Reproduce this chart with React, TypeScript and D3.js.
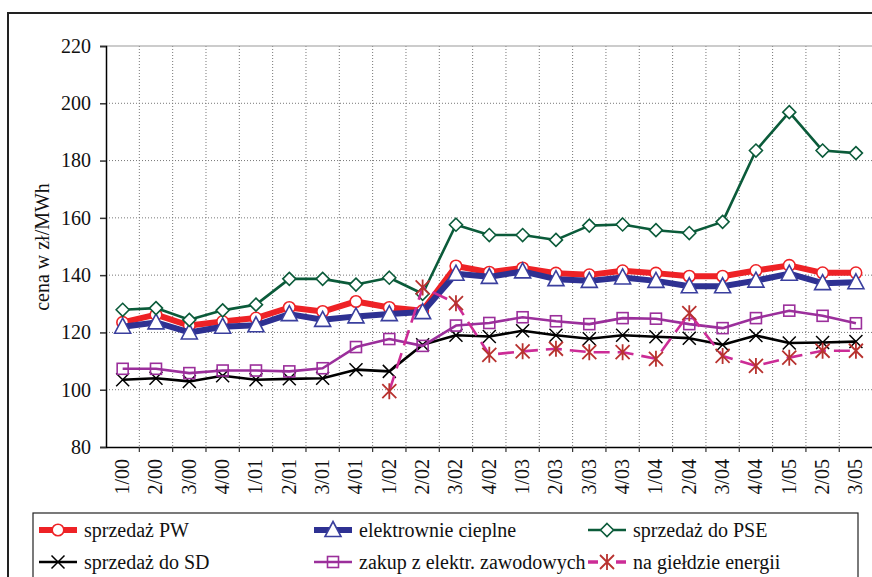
import React, { useEffect, useRef } from 'react'
import * as d3 from 'd3'

// quarters on the x axis
const quarters = [
  '1/00', '2/00', '3/00', '4/00', '1/01', '2/01', '3/01', '4/01',
  '1/02', '2/02', '3/02', '4/02', '1/03', '2/03', '3/03', '4/03',
  '1/04', '2/04', '3/04', '4/04', '1/05', '2/05', '3/05',
]
const yTicks = [80, 100, 120, 140, 160, 180, 200, 220]

// prices in zł/MWh
const sprzedazPW = [123.5, 126.2, 122.4, 123.8, 125, 128.7, 127.3, 130.8, 128.7, 127.6, 143.2, 141, 142.5, 140.7, 140.1, 141.5, 140.7, 139.6, 139.6, 141.6, 143.4, 140.8, 140.8]
const elektrownieCieplne = [122, 123.5, 120, 122, 122.5, 126.4, 124.4, 125.6, 126.4, 127.1, 140.5, 139.4, 141.3, 138.6, 138, 139.2, 138, 136.1, 136.1, 138.1, 140.5, 137.2, 137.5]
const sprzedazPSE = [127.9, 128.5, 124.4, 127.7, 129.7, 138.7, 138.7, 136.7, 139.1, 133.5, 157.6, 154, 154, 152.3, 157.3, 157.7, 155.7, 154.7, 158.6, 183.5, 196.9, 183.5, 182.6]
const sprzedazSD = [103.5, 104, 102.9, 104.9, 103.5, 103.8, 104, 107, 106.4, 115.7, 119, 118.6, 120.6, 119, 117.8, 119, 118.5, 118, 115.7, 118.9, 116.3, 116.5, 116.8]
const zakupZawodowe = [107.3, 107.3, 105.8, 106.7, 106.7, 106.4, 107.5, 114.9, 117.7, 115.3, 122.4, 123.3, 125.3, 123.9, 122.9, 125, 124.8, 122.9, 121.5, 125, 127.6, 125.8, 123.2]
const gieldaEnergii = [null, null, null, null, null, null, null, null, 99.5, 135.7, 130.2, 112.2, 113.4, 114.3, 113.1, 113.1, 110.8, 126.7, 111.8, 108.3, 111.2, 113.6, 113.6]

const series = [
  { name: 'sprzedaż PW', values: sprzedazPW, color: '#EE2226', width: 6, marker: 'circle', markerColor: '#EE2226', dash: null },
  { name: 'elektrownie cieplne', values: elektrownieCieplne, color: '#2E3192', width: 6, marker: 'triangle', markerColor: '#3A3F9E', dash: null },
  { name: 'sprzedaż do PSE', values: sprzedazPSE, color: '#0B5B3A', width: 2.6, marker: 'diamond', markerColor: '#0B5B3A', dash: null },
  { name: 'sprzedaż do SD', values: sprzedazSD, color: '#000000', width: 2.6, marker: 'x', markerColor: '#000000', dash: null },
  { name: 'zakup z elektr. zawodowych', values: zakupZawodowe, color: '#9B2F9B', width: 2.6, marker: 'square', markerColor: '#9B2F9B', dash: null },
  { name: 'na giełdzie energii', values: gieldaEnergii, color: '#CC2C96', width: 2.6, marker: 'star', markerColor: '#B8322F', dash: '16,8' },
]

const font = '"Liberation Serif", "Times New Roman", serif'
const fontSize = '20px'

function drawMarker(g, type, color, cx, cy) {
  if (type === 'circle') {
    g.append('circle').attr('cx', cx).attr('cy', cy).attr('r', 5.8)
      .attr('fill', 'white').attr('stroke', color).attr('stroke-width', 1.6)
  } else if (type === 'triangle') {
    g.append('path')
      .attr('d', `M${cx},${cy - 8.5}L${cx + 8},${cy + 6.5}L${cx - 8},${cy + 6.5}Z`)
      .attr('fill', 'white').attr('stroke', color).attr('stroke-width', 1.6)
  } else if (type === 'diamond') {
    g.append('path')
      .attr('d', `M${cx},${cy - 6.5}L${cx + 6.5},${cy}L${cx},${cy + 6.5}L${cx - 6.5},${cy}Z`)
      .attr('fill', 'white').attr('stroke', color).attr('stroke-width', 1.6)
  } else if (type === 'square') {
    g.append('rect').attr('x', cx - 5.5).attr('y', cy - 5.5).attr('width', 11).attr('height', 11)
      .attr('fill', 'none').attr('stroke', color).attr('stroke-width', 1.6)
  } else if (type === 'x') {
    g.append('path')
      .attr('d', `M${cx - 6.5},${cy - 6.5}L${cx + 6.5},${cy + 6.5}M${cx - 6.5},${cy + 6.5}L${cx + 6.5},${cy - 6.5}`)
      .attr('stroke', color).attr('stroke-width', 1.5)
  } else if (type === 'star') {
    g.append('path')
      .attr('d', `M${cx - 7},${cy - 7}L${cx + 7},${cy + 7}M${cx - 7},${cy + 7}L${cx + 7},${cy - 7}M${cx},${cy - 8}L${cx},${cy + 8}`)
      .attr('stroke', color).attr('stroke-width', 1.8)
  }
}

export default function App() {
  const ref = useRef(null)

  useEffect(() => {
    const svg = d3.select(ref.current)
    svg.selectAll('*').remove()

    const left = 106, top = 46, bottom = 447
    const band = 33.33

    const x = d3.scaleBand().domain(quarters).range([left, left + band * quarters.length]).padding(0)
    const y = d3.scaleLinear().domain([80, 220]).range([bottom, top])
    const right = left + band * quarters.length

    // outer frame
    svg.append('rect').attr('x', 8).attr('y', 13).attr('width', 900).attr('height', 600)
      .attr('fill', 'none').attr('stroke', '#222').attr('stroke-width', 2)

    // grid
    const grid = svg.append('g')
    yTicks.filter((t) => t > 80 && t < 220).forEach((t) => {
      grid.append('line').attr('x1', left).attr('x2', right).attr('y1', y(t)).attr('y2', y(t))
        .attr('stroke', '#777').attr('stroke-width', 1).attr('stroke-dasharray', '1,2')
    })
    quarters.slice(1).forEach((q) => {
      grid.append('line').attr('x1', x(q)).attr('x2', x(q)).attr('y1', top).attr('y2', bottom)
        .attr('stroke', '#777').attr('stroke-width', 1).attr('stroke-dasharray', '1,2')
    })
    grid.append('line').attr('x1', left).attr('x2', right).attr('y1', top).attr('y2', top)
      .attr('stroke', '#999').attr('stroke-width', 1.2)

    // y axis
    const yAxis = svg.append('g').attr('transform', `translate(${left},0)`)
      .call(d3.axisLeft(y).tickValues(yTicks).tickSize(6).tickPadding(9))
    yAxis.select('.domain').attr('stroke', '#000').attr('stroke-width', 1.5)
    yAxis.selectAll('.tick line').attr('stroke', '#333').attr('stroke-width', 1.5)
    yAxis.selectAll('.tick text').style('font-family', font).style('font-size', fontSize).attr('fill', '#111')

    // x axis
    const xAxis = svg.append('g').attr('transform', `translate(0,${bottom})`)
      .call(d3.axisBottom(x).tickSize(0).tickSizeOuter(0))
    xAxis.select('.domain').attr('stroke', '#000').attr('stroke-width', 1.5)
    xAxis.selectAll('.tick text')
      .style('font-family', font).style('font-size', fontSize).attr('fill', '#111')
      .attr('text-anchor', 'end')
      .attr('transform', 'rotate(-90)')
      .attr('x', -12).attr('y', 0).attr('dy', '0.32em')
    quarters.slice(1).forEach((q) => {
      svg.append('line').attr('x1', x(q)).attr('x2', x(q)).attr('y1', bottom).attr('y2', bottom + 5)
        .attr('stroke', '#333').attr('stroke-width', 1.2)
    })

    // y title
    svg.append('text').attr('transform', 'translate(49,247) rotate(-90)')
      .attr('text-anchor', 'middle').style('font-family', font).style('font-size', fontSize).attr('fill', '#111')
      .text('cena w zł/MWh')

    // series
    const cx = (i) => x(quarters[i]) + x.bandwidth() / 2
    series.forEach((s) => {
      const line = d3.line()
        .defined((d) => d != null)
        .x((d, i) => cx(i))
        .y((d) => y(d))
      svg.append('path').datum(s.values).attr('d', line)
        .attr('fill', 'none').attr('stroke', s.color).attr('stroke-width', s.width)
        .attr('stroke-linejoin', 'round')
        .attr('stroke-dasharray', s.dash)
      const mg = svg.append('g')
      s.values.forEach((v, i) => {
        if (v != null) drawMarker(mg, s.marker, s.markerColor, cx(i), y(v))
      })
    })

    // legend
    svg.append('rect').attr('x', 33).attr('y', 513).attr('width', 825).attr('height', 100)
      .attr('fill', 'white').attr('stroke', '#222').attr('stroke-width', 1.2)
    const legendCols = [58, 333, 607]
    const legendRows = [530, 562]
    series.forEach((s, i) => {
      const lx = legendCols[i % 3]
      const ly = legendRows[Math.floor(i / 3)]
      const lg = svg.append('g')
      lg.append('line').attr('x1', lx - 19).attr('x2', lx + 19).attr('y1', ly).attr('y2', ly)
        .attr('stroke', s.color).attr('stroke-width', s.dash ? 3.5 : s.width)
        .attr('stroke-dasharray', s.dash ? '10,18' : null)
      drawMarker(lg, s.marker, s.markerColor, lx, ly)
      lg.append('text').attr('x', lx + 26).attr('y', ly).attr('dy', '0.33em')
        .style('font-family', font).style('font-size', fontSize).attr('fill', '#111')
        .text(s.name)
    })
  }, [])

  return (
    <svg ref={ref} width={872} height={577}
      style={{ position: 'absolute', left: 0, top: 0, background: 'white', display: 'block' }} />
  )
}
